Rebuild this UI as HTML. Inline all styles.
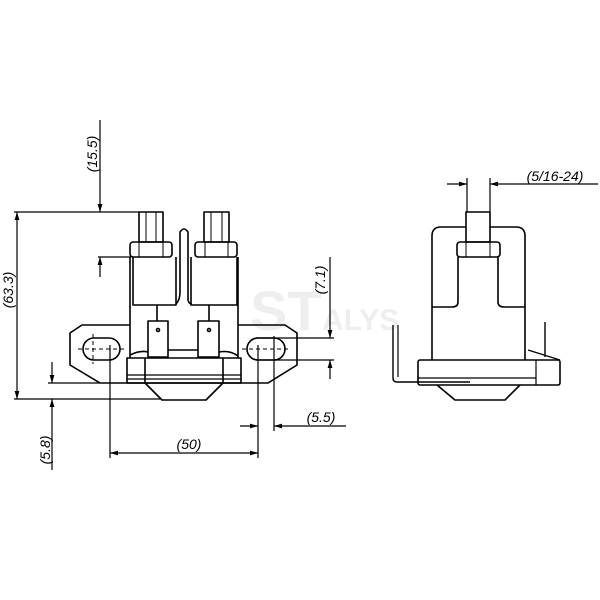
<!DOCTYPE html>
<html><head><meta charset="utf-8"><style>
html,body{margin:0;padding:0;background:#fff}
svg{display:block}
text{font-family:"Liberation Sans",sans-serif;font-style:italic;font-size:14px;fill:#000}
</style></head><body>
<svg width="600" height="600" viewBox="0 0 600 600" xmlns="http://www.w3.org/2000/svg">
<defs>
<marker id="a" viewBox="0 0 10 6" refX="10" refY="3" markerWidth="8" markerHeight="5" orient="auto-start-reverse" markerUnits="userSpaceOnUse"><path d="M0,0 L10,3 L0,6 z" fill="#000"/></marker>
</defs>
<!-- watermark -->
<text x="250" y="330" style="font-size:56px;font-weight:bold;font-style:normal;fill:#eeeeee">ST</text>
<text x="322" y="330" style="font-size:30px;font-weight:bold;font-style:normal;fill:#eeeeee">ALYS</text>

<g fill="none" stroke="#000" stroke-width="1.6" stroke-linejoin="round">
<!-- LEFT VIEW -->
<!-- studs -->
<rect x="139" y="212" width="24" height="30"/>
<line x1="146" y1="212" x2="146" y2="242" stroke-width="1"/>
<line x1="156" y1="212" x2="156" y2="242" stroke-width="1"/>
<rect x="204" y="212" width="25" height="30"/>
<line x1="211" y1="212" x2="211" y2="242" stroke-width="1"/>
<line x1="222" y1="212" x2="222" y2="242" stroke-width="1"/>
<!-- nuts -->
<rect x="130" y="242" width="42" height="15" rx="3"/>
<line x1="139" y1="242" x2="139" y2="257" stroke-width="1"/>
<line x1="163" y1="242" x2="163" y2="257" stroke-width="1"/>
<rect x="195" y="242" width="42" height="15" rx="3"/>
<line x1="205" y1="242" x2="205" y2="257" stroke-width="1"/>
<line x1="228" y1="242" x2="228" y2="257" stroke-width="1"/>
<!-- upper body blocks -->
<path d="M133,257 V305 H176 V257"/>
<path d="M191,257 V305 H237 V257"/>
<!-- middle tab -->
<path d="M176,304 Q180,300 180,292 V232 Q184,226 188,232 V300 Q189,304 192,304"/>
<!-- lower body -->
<path d="M130,257 V358 M238,257 V358"/>
<!-- spade terminals -->
<line x1="157" y1="305" x2="157" y2="321"/>
<line x1="209" y1="305" x2="209" y2="321"/>
<rect x="148" y="321" width="20" height="36"/>
<rect x="198" y="321" width="21" height="36"/>
<circle cx="158" cy="330" r="1.5"/>
<circle cx="209" cy="330" r="1.5"/>
<line x1="168" y1="350" x2="198" y2="350"/>
<path d="M130,355 Q140,350 148,352 M219,352 Q230,350 238,356"/>
<!-- flange -->
<path d="M130,325 H82 L70,333 V365 L100,383 H268 L297,365 V333 L285,325 H238"/>
<!-- slots -->
<rect x="83" y="338" width="37" height="22" rx="11"/>
<rect x="247" y="338" width="38" height="22" rx="11"/>
<g stroke-width="1" stroke-dasharray="4,3">
<line x1="78" y1="349" x2="125" y2="349"/>
<line x1="93" y1="334" x2="93" y2="364"/>
<line x1="242" y1="349" x2="290" y2="349"/>
</g>
<!-- base plate -->
<rect x="127" y="358" width="114" height="25"/>
<line x1="127" y1="375" x2="241" y2="375" stroke-width="1.2"/>
<line x1="127" y1="379" x2="241" y2="379" stroke-width="1.2"/>
<line x1="145" y1="358" x2="145" y2="383"/>
<line x1="223" y1="358" x2="223" y2="383"/>
<path d="M145,383 L162,400 H206 L223,383"/>
</g>

<!-- dimension lines left view -->
<g fill="none" stroke="#000" stroke-width="1.2">
<!-- 15.5 -->
<line x1="100" y1="120" x2="100" y2="212" marker-end="url(#a)"/>
<line x1="100" y1="277" x2="100" y2="257" marker-end="url(#a)"/>
<line x1="98" y1="257" x2="131" y2="257"/>
<!-- 63.3 -->
<line x1="14" y1="212" x2="139" y2="212"/>
<line x1="14" y1="399" x2="160" y2="399"/>
<line x1="17" y1="212" x2="17" y2="399" marker-start="url(#a)" marker-end="url(#a)"/>
<!-- 7.1 -->
<line x1="256" y1="338" x2="334" y2="338"/>
<line x1="256" y1="360" x2="334" y2="360"/>
<line x1="330" y1="257" x2="330" y2="338" marker-end="url(#a)"/>
<line x1="330" y1="379" x2="330" y2="360" marker-end="url(#a)"/>
<!-- 5.8 -->
<line x1="48" y1="383" x2="100" y2="383"/>
<line x1="52" y1="362" x2="52" y2="383" marker-end="url(#a)"/>
<line x1="52" y1="470" x2="52" y2="399" marker-end="url(#a)"/>
<!-- 50 -->
<line x1="110" y1="345" x2="110" y2="458"/>
<line x1="258" y1="345" x2="258" y2="458"/>
<line x1="110" y1="453" x2="258" y2="453" marker-start="url(#a)" marker-end="url(#a)"/>
<!-- 5.5 -->
<line x1="274" y1="336" x2="274" y2="431"/>
<line x1="240" y1="426" x2="258" y2="426" marker-end="url(#a)"/>
<line x1="346" y1="426" x2="274" y2="426" marker-end="url(#a)"/>
</g>
<text transform="translate(97,154) rotate(-90)" text-anchor="middle">(15.5)</text>
<text transform="translate(13,290) rotate(-90)" text-anchor="middle">(63.3)</text>
<text transform="translate(325,280) rotate(-90)" text-anchor="middle">(7.1)</text>
<text transform="translate(50,450) rotate(-90)" text-anchor="middle">(5.8)</text>
<text x="189" y="449" text-anchor="middle">(50)</text>
<text x="321" y="422" text-anchor="middle">(5.5)</text>

<!-- RIGHT VIEW -->
<g fill="none" stroke="#000" stroke-width="1.6" stroke-linejoin="round">
<rect x="466" y="212" width="24" height="30"/>
<path d="M466,227 H441 Q432,227 432,236 V360 M490,227 H516 Q525,227 525,236 V360"/>
<rect x="457" y="242" width="43" height="15" rx="3"/>
<line x1="466" y1="242" x2="466" y2="257" stroke-width="1"/>
<line x1="490" y1="242" x2="490" y2="257" stroke-width="1"/>
<path d="M458,257 V302 Q458,307 452,307 H432 M498,257 V302 Q498,307 504,307 H525"/>
<rect x="418" y="360" width="142" height="25" rx="2"/>
<line x1="418" y1="378" x2="536" y2="378" stroke-width="1.2"/>
<line x1="536" y1="360" x2="536" y2="385" stroke-width="1.2"/>
<path d="M437,385 L455,400 H505 L520,385"/>
<path d="M393,325 V378 Q393,382 397,382 H470" stroke-width="1.4"/>
<line x1="398" y1="325" x2="398" y2="377" stroke-width="1.2"/>
<line x1="545" y1="322" x2="545" y2="357" stroke-width="1.4"/>
<path d="M528,350 L560,360" stroke-width="1.2"/>
</g>
<g fill="none" stroke="#000" stroke-width="1.2">
<line x1="467" y1="178" x2="467" y2="212"/>
<line x1="490" y1="178" x2="490" y2="212"/>
<line x1="447" y1="184" x2="467" y2="184" marker-end="url(#a)"/>
<line x1="598" y1="184" x2="490" y2="184" marker-end="url(#a)"/>
</g>
<text x="555" y="181" text-anchor="middle">(5/16-24)</text>
</svg>
</body></html>
